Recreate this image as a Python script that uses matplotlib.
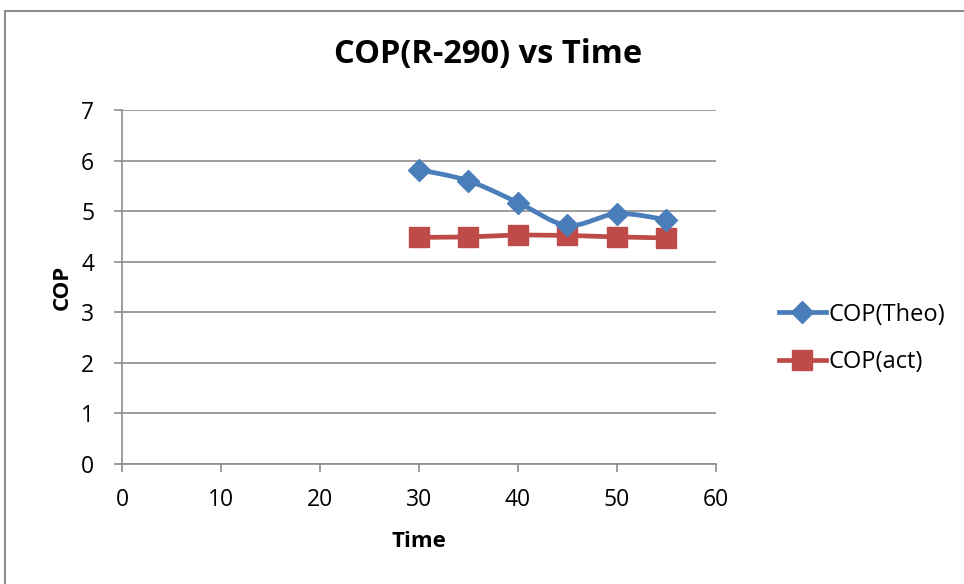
import numpy as np
import matplotlib.pyplot as plt
from matplotlib.patches import Rectangle
from matplotlib.lines import Line2D

plt.rcParams['font.family'] = ['Open Sans', 'DejaVu Sans']

# COP readings against time
time = [30, 35, 40, 45, 50, 55]
cop_theo = [5.82, 5.60, 5.17, 4.72, 4.95, 4.83]
cop_act = [4.48, 4.49, 4.53, 4.52, 4.49, 4.47]

x_ticks = [0, 10, 20, 30, 40, 50, 60]
y_ticks = [0, 1, 2, 3, 4, 5, 6, 7]

blue = "#4A7EBB"
red = "#BE4B48"
grid_grey = "#8C8C8C"


def smooth(xs, ys, n=30):
    # Catmull-Rom curve through the points, like a "smoothed line" series
    xs = np.asarray(xs, float)
    ys = np.asarray(ys, float)
    px = np.concatenate([[xs[0]], xs, [xs[-1]]])
    py = np.concatenate([[ys[0]], ys, [ys[-1]]])
    out_x, out_y = [], []
    t = np.linspace(0, 1, n)
    for i in range(1, len(px) - 2):
        for arr, out in ((px, out_x), (py, out_y)):
            p0, p1, p2, p3 = arr[i - 1], arr[i], arr[i + 1], arr[i + 2]
            seg = 0.5 * ((2 * p1) + (-p0 + p2) * t
                         + (2 * p0 - 5 * p1 + 4 * p2 - p3) * t ** 2
                         + (-p0 + 3 * p1 - 3 * p2 + p3) * t ** 3)
            out.extend(seg)
    return out_x, out_y


fig = plt.figure(figsize=(9.64, 5.84), dpi=100)
ax = fig.add_axes([0.1266, 0.2055, 0.6160, 0.6061])

sx, sy = smooth(time, cop_theo)
ax.plot(sx, sy, color=blue, lw=3.4, solid_capstyle="round", zorder=3)
ax.plot(time, cop_theo, ls="none", marker="D", ms=11, color=blue, zorder=4)
ax.plot(time, cop_act, color=red, lw=3.4, marker="s", ms=14, zorder=3)

ax.set_xlim(0, 60)
ax.set_ylim(0, 7)
ax.set_xticks(x_ticks)
ax.set_yticks(y_ticks)
ax.tick_params(labelsize=16.5, length=6, width=1.2, color=grid_grey)
ax.tick_params(axis="x", pad=11)
ax.tick_params(axis="y", pad=14)
ax.grid(axis="y", color=grid_grey, lw=1.2)
ax.set_axisbelow(True)
for side in ("top", "right"):
    ax.spines[side].set_visible(False)
for side in ("left", "bottom"):
    ax.spines[side].set_color(grid_grey)
    ax.spines[side].set_linewidth(1.2)

# title centred over the whole chart area
fig.text(488 / 964, 1 - 55 / 584, "COP(R-290) vs Time", fontsize=23.5,
         fontweight="bold", ha="center", va="center")
ax.set_xlabel("Time", fontsize=16, fontweight="bold", labelpad=14)
ax.set_ylabel("COP", fontsize=16, fontweight="bold", labelpad=6)

handles = [
    Line2D([], [], color=blue, lw=3.4, marker="D", ms=11),
    Line2D([], [], color=red, lw=3.4, marker="s", ms=14),
]
ax.legend(handles, ["COP(Theo)", "COP(act)"], loc="center left",
          bbox_to_anchor=(1.07, 0.355), frameon=False, fontsize=17,
          handlelength=2.0, handletextpad=0.1, labelspacing=1.0)

# chart area border
fig.patches.append(Rectangle((5 / 964, -0.1), 1.2, (584 - 11) / 584 + 0.1,
                             transform=fig.transFigure, fill=False,
                             edgecolor="#8C8C8C", lw=1.5))

fig.savefig("out.png", dpi=100)
